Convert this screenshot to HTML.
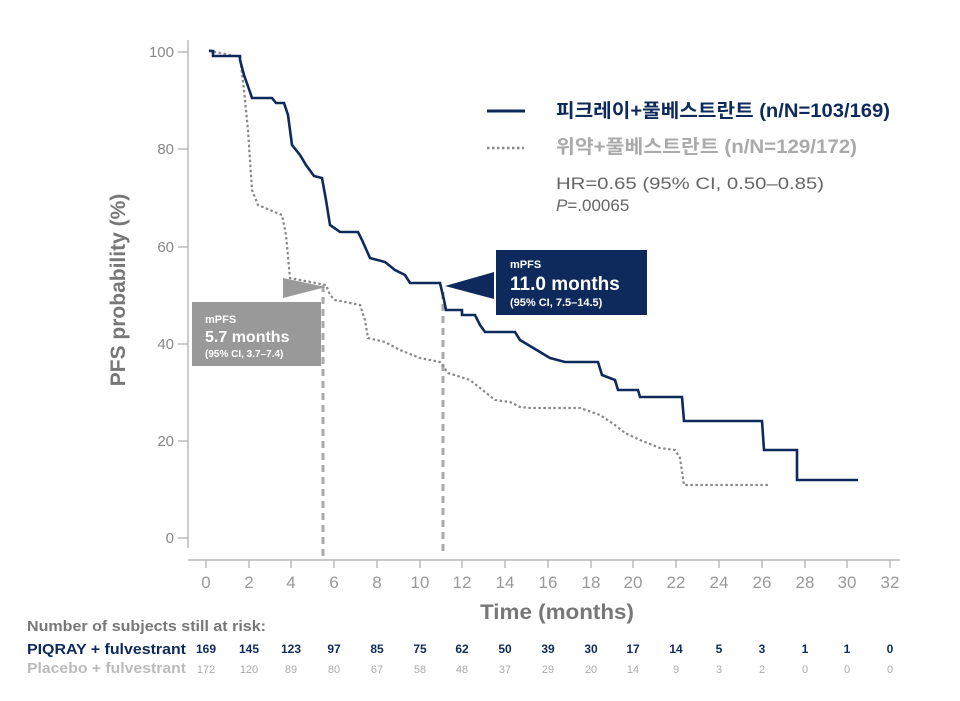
<!DOCTYPE html>
<html><head><meta charset="utf-8"><style>
body{margin:0;background:#fff;width:960px;height:696px;overflow:hidden}
text{font-family:"Liberation Sans","Noto Sans CJK KR",sans-serif}
</style></head><body>
<svg width="960" height="696" viewBox="0 0 960 696" xmlns="http://www.w3.org/2000/svg">
<line x1="188" y1="40" x2="188" y2="548" stroke="#aaa" stroke-width="1.2"/>
<g stroke="#aaa" stroke-width="1.2">
<line x1="178" y1="52" x2="188" y2="52"/><line x1="178" y1="149" x2="188" y2="149"/>
<line x1="178" y1="247" x2="188" y2="247"/><line x1="178" y1="344" x2="188" y2="344"/>
<line x1="178" y1="441" x2="188" y2="441"/><line x1="178" y1="538" x2="188" y2="538"/>
</g>
<g font-size="15" fill="#888" text-anchor="end">
<text x="174" y="57">100</text><text x="174" y="154">80</text><text x="174" y="252">60</text>
<text x="174" y="349">40</text><text x="174" y="446">20</text><text x="174" y="543">0</text>
</g>
<text transform="translate(125,290) rotate(-90)" text-anchor="middle" font-size="21" font-weight="bold" fill="#777">PFS probability (%)</text>
<line x1="188" y1="560" x2="900" y2="560" stroke="#aaa" stroke-width="1.2"/>
<g font-size="17" fill="#999" text-anchor="middle">
<text x="206" y="588">0</text><text x="249" y="588">2</text><text x="291" y="588">4</text><text x="334" y="588">6</text>
<text x="377" y="588">8</text><text x="420" y="588">10</text><text x="462" y="588">12</text><text x="505" y="588">14</text>
<text x="548" y="588">16</text><text x="591" y="588">18</text><text x="633" y="588">20</text><text x="676" y="588">22</text>
<text x="719" y="588">24</text><text x="762" y="588">26</text><text x="805" y="588">28</text><text x="847" y="588">30</text>
<text x="890" y="588">32</text>
</g>
<g stroke="#aaa" stroke-width="1.2">
<line x1="206" y1="560" x2="206" y2="568"/><line x1="249" y1="560" x2="249" y2="568"/><line x1="291" y1="560" x2="291" y2="568"/>
<line x1="334" y1="560" x2="334" y2="568"/><line x1="377" y1="560" x2="377" y2="568"/><line x1="420" y1="560" x2="420" y2="568"/>
<line x1="462" y1="560" x2="462" y2="568"/><line x1="505" y1="560" x2="505" y2="568"/><line x1="548" y1="560" x2="548" y2="568"/>
<line x1="591" y1="560" x2="591" y2="568"/><line x1="633" y1="560" x2="633" y2="568"/><line x1="676" y1="560" x2="676" y2="568"/>
<line x1="719" y1="560" x2="719" y2="568"/><line x1="762" y1="560" x2="762" y2="568"/><line x1="805" y1="560" x2="805" y2="568"/>
<line x1="847" y1="560" x2="847" y2="568"/><line x1="890" y1="560" x2="890" y2="568"/>
</g>
<text x="480" y="619" font-size="21" font-weight="bold" fill="#777" textLength="154" lengthAdjust="spacingAndGlyphs">Time (months)</text>
<line x1="323" y1="285" x2="323" y2="556" stroke="#aaa" stroke-width="3" stroke-dasharray="7,5"/>
<line x1="443" y1="292" x2="443" y2="556" stroke="#aaa" stroke-width="3" stroke-dasharray="7,5"/>
<path d="M209,50 L215,52 L240,57 L244,90 L248,130 L252,190 L258,205 L270,210 L282,215 L286,235 L290,278 L300,280 L326,285 L330,295 L335,300 L360,305 L365,320 L368,338 L385,342 L400,350 L420,358 L440,362 L448,373 L470,380 L485,392 L495,400 L510,402 L520,407 L530,408 H580 L600,415 L615,425 L625,433 L640,440 L660,448 L675,450 L680,458 L684,485 H770" fill="none" stroke="#888" stroke-width="2.2" stroke-dasharray="2.5,2.5"/>
<path d="M209,51 H213 V56 H240 V60 L244,75 L250,92 L252,98 H272 L276,103 L284,103 L288,115 L292,145 L300,155 L306,165 L314,176 L322,178 L326,200 L330,225 L340,232 H358 L362,240 L370,258 L385,262 L395,270 L405,275 L410,283 H440 L444,300 L446,310 H462 V315 H475 L480,325 L485,332 H515 L520,340 L530,346 L540,352 L550,358 L565,362 H598 L602,375 L615,380 L618,390 H638 L640,397 H682 L684,421 H762 L764,450 H797 V480 H858" fill="none" stroke="#0e2a5c" stroke-width="2.6"/>
<polygon points="283,278 283,298 326,287" fill="#9a9a9a"/>
<rect x="192" y="302" width="129" height="64" fill="#999"/>
<text x="205" y="323" font-size="11" font-weight="bold" fill="#fff">mPFS</text>
<text x="205" y="342" font-size="16" font-weight="bold" fill="#fff">5.7 months</text>
<text x="205" y="357" font-size="10" font-weight="bold" fill="#fff">(95% CI, 3.7–7.4)</text>
<polygon points="445,286 494,272 494,299" fill="#0e2a5c"/>
<rect x="496" y="250" width="151" height="65" fill="#0e2a5c"/>
<text x="510" y="268" font-size="11" font-weight="bold" fill="#fff">mPFS</text>
<text x="510" y="290" font-size="19" font-weight="bold" fill="#fff">11.0 months</text>
<text x="510" y="306" font-size="11" font-weight="bold" fill="#fff">(95% CI, 7.5–14.5)</text>
<line x1="487" y1="111" x2="525" y2="111" stroke="#0e2a5c" stroke-width="3"/>
<text x="556" y="117" font-size="19" font-weight="bold" fill="#0e2a5c" textLength="334" lengthAdjust="spacingAndGlyphs">피크레이+풀베스트란트 (n/N=103/169)</text>
<line x1="487" y1="148" x2="524" y2="148" stroke="#888" stroke-width="2.5" stroke-dasharray="2.5,2.5"/>
<text x="556" y="153" font-size="19" font-weight="bold" fill="#aaa" textLength="301" lengthAdjust="spacingAndGlyphs">위약+풀베스트란트 (n/N=129/172)</text>
<text x="556" y="189" font-size="17" fill="#666" textLength="268" lengthAdjust="spacingAndGlyphs">HR=0.65 (95% CI, 0.50–0.85)</text>
<text x="556" y="211" font-size="17" fill="#666"><tspan font-style="italic">P</tspan>=.00065</text>
<text x="27" y="631" font-size="15" font-weight="bold" fill="#777" textLength="239" lengthAdjust="spacingAndGlyphs">Number of subjects still at risk:</text>
<text x="27" y="654" font-size="15" font-weight="bold" fill="#0e2a5c" textLength="159" lengthAdjust="spacingAndGlyphs">PIQRAY + fulvestrant</text>
<text x="27" y="673" font-size="15" font-weight="bold" fill="#bbb" textLength="159" lengthAdjust="spacingAndGlyphs">Placebo + fulvestrant</text>
<g font-size="12" font-weight="bold" fill="#0e2a5c" text-anchor="middle">
<text x="206" y="653">169</text><text x="249" y="653">145</text><text x="291" y="653">123</text><text x="334" y="653">97</text>
<text x="377" y="653">85</text><text x="420" y="653">75</text><text x="462" y="653">62</text><text x="505" y="653">50</text>
<text x="548" y="653">39</text><text x="591" y="653">30</text><text x="633" y="653">17</text><text x="676" y="653">14</text>
<text x="719" y="653">5</text><text x="762" y="653">3</text><text x="805" y="653">1</text><text x="847" y="653">1</text>
<text x="890" y="653">0</text>
</g>
<g font-size="11" fill="#aaa" text-anchor="middle">
<text x="206" y="673">172</text><text x="249" y="673">120</text><text x="291" y="673">89</text><text x="334" y="673">80</text>
<text x="377" y="673">67</text><text x="420" y="673">58</text><text x="462" y="673">48</text><text x="505" y="673">37</text>
<text x="548" y="673">29</text><text x="591" y="673">20</text><text x="633" y="673">14</text><text x="676" y="673">9</text>
<text x="719" y="673">3</text><text x="762" y="673">2</text><text x="805" y="673">0</text><text x="847" y="673">0</text>
<text x="890" y="673">0</text>
</g>
</svg>
</body></html>
